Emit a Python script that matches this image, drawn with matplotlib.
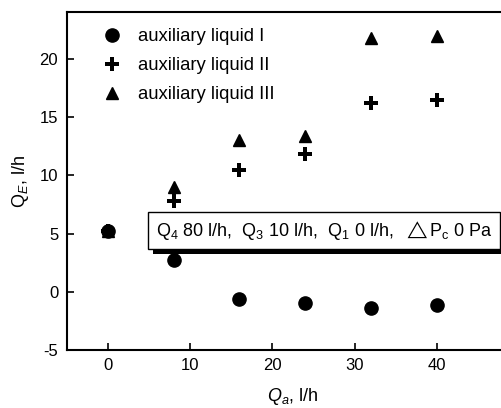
import matplotlib
matplotlib.use("Agg")
import matplotlib.pyplot as plt
from matplotlib.patches import Rectangle

plt.rcParams["font.family"] = ["Liberation Sans", "DejaVu Sans"]
plt.rcParams["mathtext.fontset"] = "custom"
plt.rcParams["mathtext.rm"] = "Liberation Sans"
plt.rcParams["mathtext.it"] = "Liberation Sans:italic"
plt.rcParams["axes.unicode_minus"] = False

qa = [0, 8, 16, 24, 32, 40]
liquid_1 = [5.2, 2.7, -0.6, -1.0, -1.4, -1.1]
liquid_2 = [5.2, 7.8, 10.5, 11.8, 16.2, 16.5]
liquid_3 = [5.2, 9.0, 13.0, 13.4, 21.8, 22.0]
labels = ["auxiliary liquid I", "auxiliary liquid II", "auxiliary liquid III"]
note = r"Q$_4$ 80 l/h,  Q$_3$ 10 l/h,  Q$_1$ 0 l/h,  $\triangle$P$_\mathrm{c}$ 0 Pa"

fig = plt.figure(figsize=(5.02, 4.08), dpi=100)
ax = fig.add_axes([0.1325, 0.142, 0.902, 0.828])

ax.plot(qa, liquid_1, "o", color="black", ms=9.5, label=labels[0])
ax.plot(qa, liquid_2, "P", color="black", ms=10, mew=0, label=labels[1])
ax.plot(qa, liquid_3, "^", color="black", ms=9, label=labels[2])

ax.set_xlim(-5, 50)
ax.set_ylim(-5, 24)
ax.set_xticks([0, 10, 20, 30, 40])
ax.set_yticks([-5, 0, 5, 10, 15, 20])
ax.tick_params(direction="in", length=5, width=1.2, labelsize=12, pad=6, top=False, right=False)
for s in ax.spines.values():
    s.set_linewidth(1.5)

ax.set_xlabel(r"$Q_a$, l/h", fontsize=13, labelpad=9)
ax.set_ylabel(r"Q$_E$, l/h", fontsize=13, labelpad=6)

ax.legend(loc="upper left", frameon=False, fontsize=13.3, handletextpad=0.8,
          borderaxespad=0.0, labelspacing=0.65, bbox_to_anchor=(0.06, 0.975),
          handlelength=1.2)

# note box with a drop shadow
t = ax.text(0.197, 0.354, note, transform=ax.transAxes, fontsize=13, va="center", zorder=5,
            bbox=dict(boxstyle="square,pad=0.4", fc="white", ec="black", lw=1))
fig.canvas.draw()
bb = t.get_bbox_patch().get_window_extent()
off = 5
ax.add_patch(Rectangle((bb.x0 + off, bb.y0 - off), bb.width, bb.height, transform=None,
                       fc="black", ec="none", zorder=4, clip_on=False))

fig.savefig("out.png", dpi=100)
